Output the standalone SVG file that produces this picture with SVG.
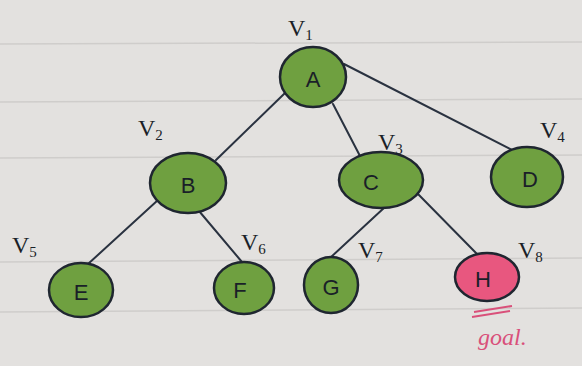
<svg xmlns="http://www.w3.org/2000/svg" width="582" height="366" viewBox="0 0 582 366">
<style>
.node{fill:#6fa040;stroke:#1f2630;stroke-width:2.5}
.goal{fill:#e8577f;stroke:#1f2630;stroke-width:2.5}
.lbl{font-family:"Liberation Sans",Arial,sans-serif;font-size:22px;fill:#1a1f28;text-anchor:middle;dominant-baseline:central}
.v{font-family:"Liberation Serif","Times New Roman",serif;font-size:24px;fill:#1a1f28}
.sub{font-size:15px}
.edge{stroke:#2a3240;stroke-width:2;fill:none;stroke-linecap:round}
.rule{stroke:#cfcdcb;stroke-width:1.5}
</style>
<rect width="582" height="366" fill="#e3e1df"/>
<g id="paper">
<line class="rule" x1="0" y1="44" x2="582" y2="42"/>
<line class="rule" x1="0" y1="102" x2="582" y2="99"/>
<line class="rule" x1="0" y1="158" x2="582" y2="155"/>
<line class="rule" x1="0" y1="262" x2="582" y2="258"/>
<line class="rule" x1="0" y1="312" x2="582" y2="308"/>
</g>
<g id="connectors">
<path class="edge" d="M285,93 L216,160"/>
<path class="edge" d="M333,104 L360,156"/>
<path class="edge" d="M344,64 L512,150"/>
<path class="edge" d="M158,200 L88,264"/>
<path class="edge" d="M199,211 L242,262"/>
<path class="edge" d="M385,207 L330,258"/>
<path class="edge" d="M417,193 L478,255"/>
</g>
<g id="node-A"><ellipse class="node" cx="313" cy="77" rx="33" ry="30"/><text class="lbl" x="313" y="79">A</text><text class="v" x="288" y="36">V<tspan class="sub" dy="4">1</tspan></text></g>
<g id="node-B"><ellipse class="node" cx="188" cy="183" rx="38" ry="30"/><text class="lbl" x="188" y="185">B</text><text class="v" x="138" y="136">V<tspan class="sub" dy="4">2</tspan></text></g>
<g id="node-C"><ellipse class="node" cx="381" cy="180" rx="42" ry="28"/><text class="lbl" x="371" y="182">C</text><text class="v" x="378" y="150">V<tspan class="sub" dy="4">3</tspan></text></g>
<g id="node-D"><ellipse class="node" cx="527" cy="177" rx="36" ry="30"/><text class="lbl" x="530" y="179">D</text><text class="v" x="540" y="138">V<tspan class="sub" dy="4">4</tspan></text></g>
<g id="node-E"><ellipse class="node" cx="81" cy="290" rx="32" ry="27"/><text class="lbl" x="81" y="292">E</text><text class="v" x="12" y="253">V<tspan class="sub" dy="4">5</tspan></text></g>
<g id="node-F"><ellipse class="node" cx="244" cy="288" rx="30" ry="26"/><text class="lbl" x="240" y="290">F</text><text class="v" x="241" y="250">V<tspan class="sub" dy="4">6</tspan></text></g>
<g id="node-G"><ellipse class="node" cx="331" cy="285" rx="27" ry="28"/><text class="lbl" x="331" y="287">G</text><text class="v" x="358" y="258">V<tspan class="sub" dy="4">7</tspan></text></g>
<g id="node-H"><ellipse class="goal" cx="487" cy="277" rx="32" ry="24"/><text class="lbl" x="483" y="279">H</text><text class="v" x="518" y="258">V<tspan class="sub" dy="4">8</tspan></text>
<line x1="474" y1="312" x2="512" y2="306" stroke="#d9507a" stroke-width="2"/>
<line x1="472" y1="317" x2="510" y2="311" stroke="#d9507a" stroke-width="2"/>
<text x="478" y="345" font-family="'Liberation Serif',serif" font-style="italic" font-size="24" fill="#d9507a">goal.</text></g>
</svg>
